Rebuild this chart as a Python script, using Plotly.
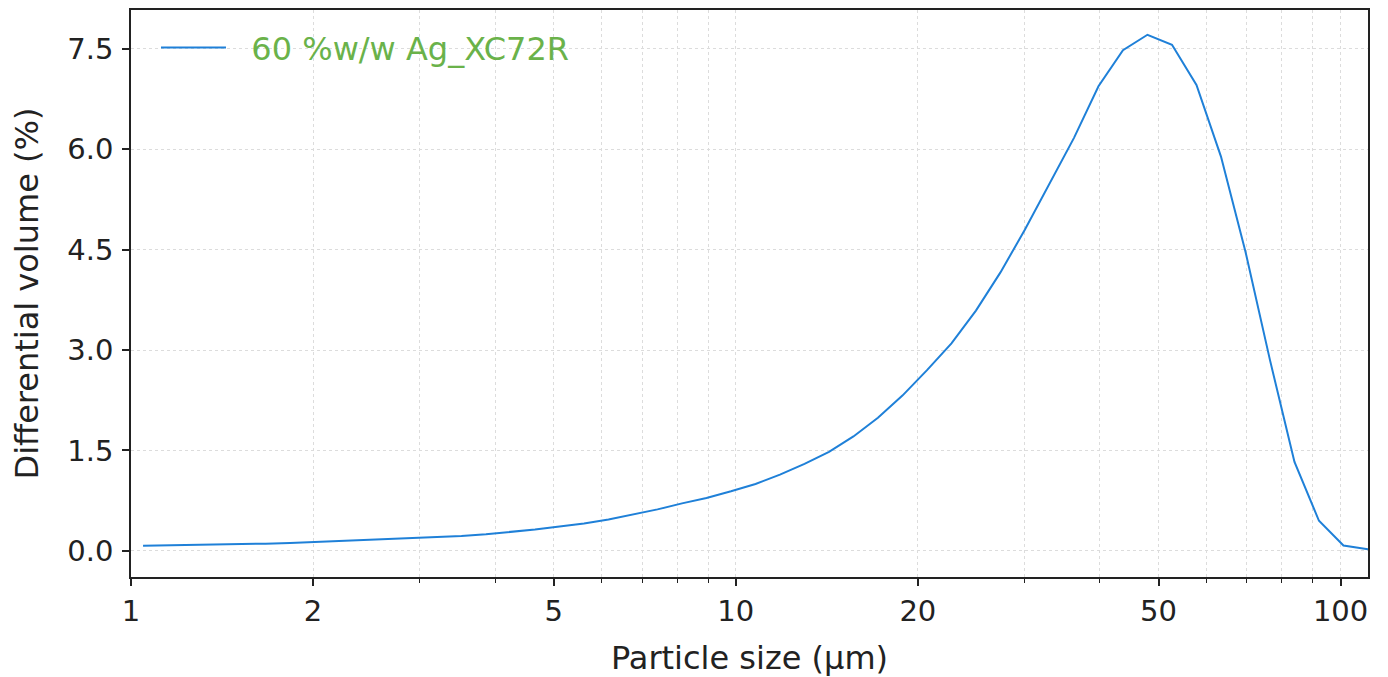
import math
import plotly.graph_objects as go

# Particle size bins (µm) and differential volume (%)
particle_size = [1.047, 1.149, 1.261, 1.385, 1.520, 1.669, 1.832, 2.011, 2.207, 2.423,
                 2.660, 2.920, 3.206, 3.519, 3.863, 4.241, 4.656, 5.111, 5.611, 6.159,
                 6.761, 7.422, 8.148, 8.944, 9.819, 10.78, 11.83, 12.99, 14.26, 15.65,
                 17.18, 18.86, 20.71, 22.73, 24.95, 27.39, 30.07, 33.01, 36.24, 39.78,
                 43.67, 47.94, 52.63, 57.77, 63.42, 69.62, 76.43, 83.90, 92.10, 101.1,
                 111.0]
diff_volume = [0.075, 0.080, 0.086, 0.092, 0.100, 0.108, 0.118, 0.132, 0.145, 0.157,
               0.170, 0.184, 0.200, 0.222, 0.248, 0.280, 0.320, 0.365, 0.41, 0.47,
               0.54, 0.62, 0.71, 0.79, 0.89, 1.00, 1.14, 1.30, 1.48, 1.71,
               1.99, 2.32, 2.70, 3.10, 3.59, 4.16, 4.80, 5.48, 6.17, 6.94,
               7.48, 7.71, 7.56, 6.96, 5.89, 4.47, 2.85, 1.33, 0.45, 0.08,
               0.026]
series_name = "60 %w/w Ag_XC72R"

x_major = [1, 2, 5, 10, 20, 50, 100]
x_minor = [3, 4, 6, 7, 8, 9, 30, 40, 60, 70, 80, 90]
y_ticks = [0.0, 1.5, 3.0, 4.5, 6.0, 7.5]

font_family = "DejaVu Sans, sans-serif"
grid_color = "#dcdcdc"
axis_color = "#222222"

fig = go.Figure()
fig.add_trace(go.Scatter(
    x=particle_size, y=diff_volume, mode="lines",
    name="\u00a0\u00a0" + series_name,
    line=dict(color="#1f80d8", width=2),
))

fig.update_layout(
    width=1380, height=669,
    margin=dict(l=123, r=20, t=2, b=100, autoexpand=False),
    paper_bgcolor="white", plot_bgcolor="white",
    font=dict(family=font_family, size=29, color=axis_color),
    showlegend=True,
    legend=dict(
        x=0.0202, y=0.982, xanchor="left", yanchor="top",
        bgcolor="rgba(255,255,255,0)", borderwidth=0,
        font=dict(family=font_family, size=32, color="#6ab24a"),
        itemwidth=65,
    ),
    xaxis=dict(
        type="log", automargin=False,
        range=[0, math.log10(max(particle_size))],
        tickmode="array", tickvals=x_major, ticktext=[str(v) for v in x_major],
        ticks="outside", ticklen=7, tickwidth=1.5, tickcolor=axis_color,
        showline=True, linecolor=axis_color, linewidth=1.5, mirror=True,
        showgrid=True, gridcolor=grid_color, griddash="dot", gridwidth=1,
        zeroline=False,
        minor=dict(tickmode="array", tickvals=x_minor, ticks="outside", ticklen=4,
                   tickwidth=1, tickcolor=axis_color,
                   showgrid=True, gridcolor=grid_color, griddash="dot", gridwidth=1),
        title=dict(text="Particle size (µm)", font=dict(size=32, family=font_family, color=axis_color),
                   standoff=21),
        tickfont=dict(size=29),
    ),
    yaxis=dict(
        automargin=False,
        range=[-0.39, 8.08],
        tickmode="array", tickvals=y_ticks, ticktext=[f"{v:.1f}" for v in y_ticks],
        ticks="outside", ticklen=7, tickwidth=1.5, tickcolor=axis_color,
        showline=True, linecolor=axis_color, linewidth=1.5, mirror=True,
        showgrid=True, gridcolor=grid_color, griddash="dot", gridwidth=1,
        zeroline=False,
        ticklabelstandoff=3,
        title=dict(text="Differential volume (%)", font=dict(size=32, family=font_family, color=axis_color),
                   standoff=19),
        tickfont=dict(size=29),
    ),
)

fig.write_html("out.html")
